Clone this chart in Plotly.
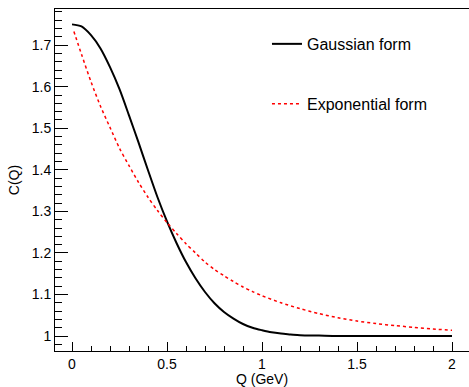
import plotly.graph_objects as go

# Values
q_gauss = [0.00, 0.05, 0.10, 0.15, 0.20, 0.25, 0.30, 0.35, 0.40, 0.45, 0.50,
           0.55, 0.60, 0.65, 0.70, 0.75, 0.80, 0.85, 0.90, 0.95, 1.00,
           1.05, 1.10, 1.15, 1.20, 1.30, 1.40, 1.60, 2.00]
c_gauss = [1.750, 1.745, 1.724, 1.692, 1.647, 1.594, 1.531, 1.466, 1.399, 1.334, 1.276,
           1.224, 1.178, 1.139, 1.106, 1.079, 1.058, 1.042, 1.029, 1.020, 1.014,
           1.009, 1.006, 1.004, 1.002, 1.001, 1.000, 1.000, 1.000]

q_expo = [0.01, 0.05, 0.10, 0.15, 0.20, 0.25, 0.30, 0.35, 0.40, 0.45, 0.50,
          0.55, 0.60, 0.65, 0.70, 0.75, 0.80, 0.85, 0.90, 0.95, 1.00,
          1.10, 1.20, 1.30, 1.40, 1.50, 1.60, 1.70, 1.80, 1.90, 2.00]
c_expo = [1.733, 1.678, 1.612, 1.553, 1.502, 1.452, 1.410, 1.370, 1.334, 1.302, 1.273,
          1.247, 1.222, 1.200, 1.178, 1.160, 1.145, 1.131, 1.118, 1.107, 1.097,
          1.080, 1.066, 1.054, 1.044, 1.036, 1.030, 1.025, 1.021, 1.017, 1.014]

x_ticks = [0, 0.5, 1, 1.5, 2]
x_tick_labels = ["0", "0.5", "1", "1.5", "2"]
y_ticks = [1.0, 1.1, 1.2, 1.3, 1.4, 1.5, 1.6, 1.7]
y_tick_labels = ["1", "1.1", "1.2", "1.3", "1.4", "1.5", "1.6", "1.7"]

FONT = "Liberation Sans, Arial, Helvetica, sans-serif"

fig = go.Figure()
fig.add_trace(go.Scatter(x=q_gauss, y=c_gauss, mode="lines", name="Gaussian form",
                         line=dict(color="black", width=2, shape="spline", smoothing=0.8),
                         legendgroup="g"))
fig.add_trace(go.Scatter(x=q_expo, y=c_expo, mode="lines", name="Exponential form",
                         line=dict(color="#ff0000", width=1.5, dash="dot", shape="spline", smoothing=0.8),
                         legendgroup="e"))

fig.update_layout(
    width=469, height=387,
    margin=dict(l=55, r=0, t=9, b=36),
    paper_bgcolor="white", plot_bgcolor="white",
    font=dict(family=FONT, size=14, color="black"),
    showlegend=True,
    legend=dict(x=0.512, y=0.9475, xanchor="left", yanchor="top",
                bgcolor="rgba(0,0,0,0)", font=dict(size=16, family=FONT),
                tracegroupgap=36, itemwidth=30),
    xaxis=dict(range=[-0.0895, 2.0895], tickvals=x_ticks, ticktext=x_tick_labels,
               ticks="inside", ticklen=9, tickwidth=1, tickcolor="black",
               minor=dict(dtick=0.1, ticks="inside", ticklen=5, tickcolor="black", showgrid=False),
               showline=True, linecolor="black", linewidth=1, mirror=True,
               showgrid=False, zeroline=False,
               title=dict(text="Q (GeV)", font=dict(size=14), standoff=6),
               automargin=False, tickfont=dict(size=14)),
    yaxis=dict(range=[0.964, 1.787], tickvals=y_ticks, ticktext=y_tick_labels,
               ticks="inside", ticklen=13, tickwidth=1, tickcolor="black",
               minor=dict(dtick=0.02, ticks="inside", ticklen=7, tickcolor="black", showgrid=False),
               showline=True, linecolor="black", linewidth=1, mirror=False,
               showgrid=False, zeroline=False,
               title=dict(text="C(Q)", font=dict(size=14), standoff=8),
               automargin=False, tickfont=dict(size=14)),
)

fig.write_html("out.html")
